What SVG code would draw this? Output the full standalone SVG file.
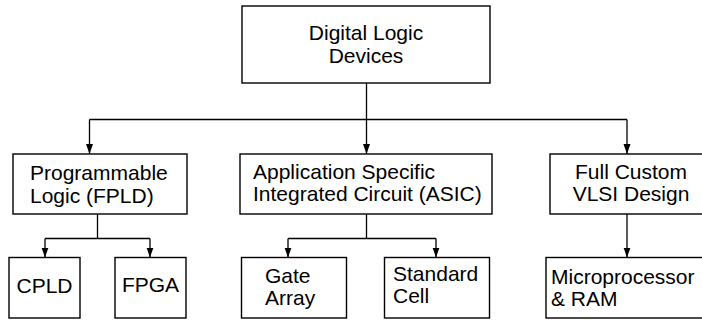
<svg xmlns="http://www.w3.org/2000/svg" width="702" height="320" viewBox="0 0 702 320">
<defs>
<style>
rect{fill:#fff;stroke:#000;stroke-width:1.4}
text{font-family:"Liberation Sans",Arial,sans-serif;font-size:21px;fill:#000}
.c{text-anchor:middle}
#connectors path{fill:none;stroke:#000;stroke-width:1.3}
</style>
<marker id="ah" markerUnits="userSpaceOnUse" markerWidth="10" markerHeight="8" refX="10" refY="3.5" orient="auto">
<path d="M0,0 L10,3.5 L0,7 z" fill="#000"/>
</marker>
</defs>
<rect x="0" y="0" width="702" height="320" style="fill:#fff;stroke:none"/>
<g id="connectors">
<path d="M366.5,83 V119.5"/>
<path d="M89.5,119.5 H627"/>
<path d="M89.5,119.5 V154" marker-end="url(#ah)"/>
<path d="M366.5,119.5 V154" marker-end="url(#ah)"/>
<path d="M627,119.5 V154" marker-end="url(#ah)"/>
<path d="M97.5,214 V238.5 M45,238.5 H150"/>
<path d="M45,238.5 V257.5" marker-end="url(#ah)"/>
<path d="M150,238.5 V257.5" marker-end="url(#ah)"/>
<path d="M366.5,214 V238.5 M288,238.5 H436"/>
<path d="M288,238.5 V257.5" marker-end="url(#ah)"/>
<path d="M436,238.5 V257.5" marker-end="url(#ah)"/>
<path d="M627,214 V257.5" marker-end="url(#ah)"/>
</g>
<g id="digital-logic-devices">
<rect x="242" y="6" width="248" height="77"/>
<text class="c" x="366" y="40">Digital Logic</text>
<text class="c" x="366" y="63">Devices</text>
</g>
<g id="fpld">
<rect x="13" y="154" width="174" height="60"/>
<text x="30" y="180">Programmable</text>
<text x="30" y="203">Logic (FPLD)</text>
</g>
<g id="asic">
<rect x="240" y="154" width="252" height="60"/>
<text x="253" y="179">Application Specific</text>
<text x="253" y="201">Integrated Circuit (ASIC)</text>
</g>
<g id="full-custom">
<rect x="550" y="154" width="170" height="60"/>
<text class="c" x="631" y="179">Full Custom</text>
<text class="c" x="631" y="201">VLSI Design</text>
</g>
<g id="cpld">
<rect x="9" y="257.5" width="71" height="60.5"/>
<text class="c" x="44.5" y="292.5">CPLD</text>
</g>
<g id="fpga">
<rect x="115" y="257.5" width="71" height="60.5"/>
<text class="c" x="150.5" y="292">FPGA</text>
</g>
<g id="gate-array">
<rect x="241.5" y="257.5" width="105" height="60.5"/>
<text x="265" y="283">Gate</text>
<text x="265" y="305">Array</text>
</g>
<g id="standard-cell">
<rect x="384.5" y="257.5" width="105" height="60.5"/>
<text x="393" y="281">Standard</text>
<text x="393" y="303">Cell</text>
</g>
<g id="microprocessor">
<rect x="546" y="257.5" width="170" height="60.5"/>
<text x="551" y="284">Microprocessor</text>
<text x="551" y="306">&amp; RAM</text>
</g>
</svg>
